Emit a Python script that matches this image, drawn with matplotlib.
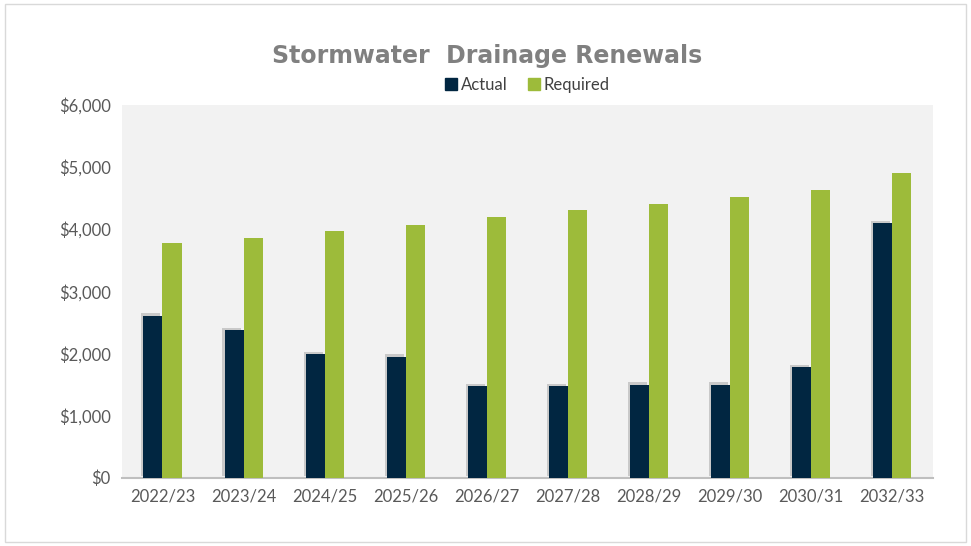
import matplotlib

matplotlib.use("Agg")

import matplotlib.pyplot as plt
import matplotlib.patheffects as pe
import numpy as np
from matplotlib.lines import Line2D
from matplotlib.patches import Rectangle
from matplotlib.ticker import FuncFormatter

years = ["2022/23", "2023/24", "2024/25", "2025/26", "2026/27",
         "2027/28", "2028/29", "2029/30", "2030/31", "2032/33"]
actual = [2610, 2370, 1985, 1950, 1470, 1480, 1500, 1500, 1780, 4100]
required = [3775, 3865, 3970, 4070, 4190, 4300, 4410, 4510, 4630, 4900]
title = "Stormwater  Drainage Renewals"

c_actual = "#012641"
c_required = "#9dbb3a"

plt.rcParams["font.family"] = ["Lato", "DejaVu Sans"]

fig = plt.figure(figsize=(9.71, 5.46), dpi=100)
ax = fig.add_axes([0.1256, 0.125, 0.835, 0.683])

# light frame around the whole chart
fig.patches.append(Rectangle((0.005, 0.008), 0.99, 0.984, transform=fig.transFigure,
                             fill=False, edgecolor="#d9d9d9", linewidth=1.0))

x = np.arange(len(years))
w = 0.235
shadow = [pe.SimplePatchShadow(offset=(-1.5, 1.5), shadow_rgbFace="#7f7f7f", alpha=0.35),
          pe.Normal()]
b1 = ax.bar(x - w / 2, actual, w, color=c_actual, zorder=3)
for p in b1:
    p.set_path_effects(shadow)
ax.bar(x + w / 2, required, w, color=c_required, zorder=3)

ax.set_facecolor("#f2f2f2")
ax.set_xlim(-0.5, len(years) - 0.5)
ax.set_ylim(0, 6000)
ax.set_yticks(range(0, 6001, 1000))
ax.yaxis.set_major_formatter(FuncFormatter(lambda v, _: f"${v:,.0f}"))
ax.set_xticks(x)
ax.set_xticklabels(years)
ax.tick_params(length=0, labelsize=12, colors="#595959", pad=8)
for s in ["top", "right", "left"]:
    ax.spines[s].set_visible(False)
ax.spines["bottom"].set_color("#bfbfbf")
ax.spines["bottom"].set_linewidth(1.5)

# wide bold face stands in for the letter-spaced title
fig.text(0.502, 0.898, title, ha="center", va="center", fontsize=17,
         fontweight="bold", color="#808080", family=["DejaVu Sans"])

handles = [Line2D([], [], marker="s", linestyle="", markersize=9, color=c_actual),
           Line2D([], [], marker="s", linestyle="", markersize=9, color=c_required)]
ax.legend(handles, ["Actual", "Required"], loc="center", bbox_to_anchor=(0.5, 1.053),
          ncol=2, frameon=False, fontsize=12, labelcolor="#404040",
          handlelength=0.7, handletextpad=0.25, columnspacing=1.2)

fig.savefig("out.png", dpi=100)
